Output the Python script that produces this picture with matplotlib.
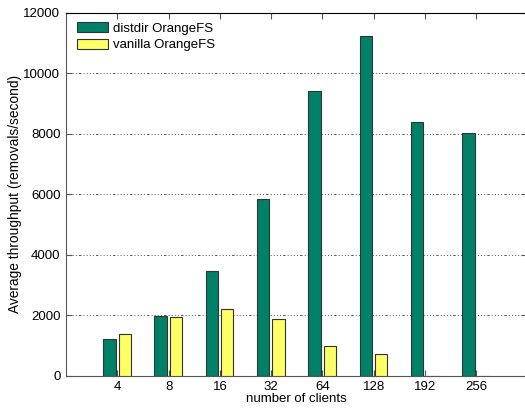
import matplotlib
matplotlib.use("Agg")
import matplotlib.pyplot as plt
import numpy as np

clients = ["4", "8", "16", "32", "64", "128", "192", "256"]
distdir = [1223, 1973, 3451, 5831, 9415, 11230, 8387, 8013]
vanilla = [1388, 1950, 2195, 1874, 992, 717, 0, 0]

plt.rcParams['font.family'] = ['Liberation Sans', 'DejaVu Sans']

fig = plt.figure(figsize=(5.25, 4.11), dpi=100)
ax = fig.add_axes([66/525, 1-375.7/411, 9*51.3/525, (375.7-12.7)/411])

x = np.arange(1, len(clients)+1)
w = 0.24
ax.bar(x-0.155, distdir, w, color='#008066', edgecolor='#333333', linewidth=0.8, label='distdir OrangeFS', zorder=3)
ax.bar(x+0.145, vanilla, w, color='#FFFF66', edgecolor='#333333', linewidth=0.8, label='vanilla OrangeFS', zorder=3)

ax.set_xlim(0, 9)
ax.set_ylim(0, 12000)
ax.set_xticks(x)
ax.set_xticklabels(clients)
ax.set_yticks(np.arange(0, 12001, 2000))
ax.yaxis.grid(True, linestyle=(0, (1, 2.2, 1, 2.2, 1, 2.2, 1, 2.2, 2.5, 2.2)), color='#555555', linewidth=0.7, zorder=0)
ax.tick_params(direction='in', top=True, right=True, length=4, labelsize=9.5, color='#555555', pad=4)
for s in ax.spines.values():
    s.set_color('#555555')
ax.spines['top'].set_color('black')
ax.set_xlabel('number of clients', fontsize=9.5, labelpad=0)
ax.set_ylabel('Average throughput (removals/second)', fontsize=9.9, labelpad=1)
ax.legend(loc='upper left', frameon=False, fontsize=9.5, handlelength=2.35, handleheight=0.8,
          borderaxespad=0.3, handletextpad=0.35, labelspacing=0.3, bbox_to_anchor=(0.004, 1.0))

fig.savefig('out.png', dpi=100)
